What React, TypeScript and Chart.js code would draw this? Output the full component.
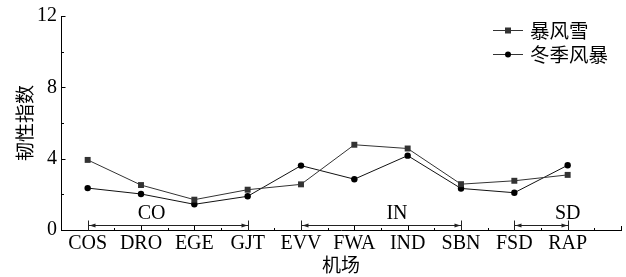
import React, { useEffect, useRef } from "react";
import { Chart, registerables } from "chart.js";

Chart.register(...registerables);

const categories = ["COS", "DRO", "EGE", "GJT", "EVV", "FWA", "IND", "SBN", "FSD", "RAP"];
const blizzard = [3.93, 2.52, 1.7, 2.26, 2.56, 4.78, 4.57, 2.57, 2.76, 3.09];
const winterStorm = [2.35, 2.02, 1.44, 1.89, 3.61, 2.85, 4.17, 2.33, 2.09, 3.63];
const yTicks = [0, 4, 8, 12];
const yMinorTicks = [2, 6, 10];
const seriesNames = ["暴风雪", "冬季风暴"];
// state groups: [label, start index, end index, label position (category units)]
const groupLabels = ["CO", "IN", "SD"];
const groupStart = [0, 4, 8];
const groupEnd = [3, 7, 9];
const groupLabelPos = [1.2, 5.8, 9];

const SERIF = '"Liberation Serif", "Times New Roman", serif';
const CJK = '"Noto Sans CJK SC", "Noto Sans", sans-serif';

export default function App() {
  const ref = useRef<HTMLCanvasElement | null>(null);

  useEffect(() => {
    document.body.style.margin = "0";
    const canvas = ref.current;
    if (!canvas) return;

    const overlay = {
      id: "overlay",
      afterDraw(chart: any) {
        const ctx = chart.ctx as CanvasRenderingContext2D;
        const x = chart.scales.x;
        const y = chart.scales.y;
        const area = chart.chartArea;
        ctx.save();
        ctx.strokeStyle = "#000";
        ctx.fillStyle = "#000";
        ctx.lineWidth = 1;
        // inward ticks on y axis
        const ax = Math.round(area.left) + 0.5;
        yTicks.forEach((v) => {
          const py = Math.round(y.getPixelForValue(v)) + 0.5;
          ctx.beginPath();
          ctx.moveTo(ax, py);
          ctx.lineTo(ax + 4, py);
          ctx.stroke();
        });
        yMinorTicks.forEach((v) => {
          const py = Math.round(y.getPixelForValue(v)) + 0.5;
          ctx.beginPath();
          ctx.moveTo(ax, py);
          ctx.lineTo(ax + 2.5, py);
          ctx.stroke();
        });
        // inward ticks on x axis
        const ay = Math.round(area.bottom) + 0.5;
        for (let i = 0; i <= categories.length; i++) {
          const px = Math.round(x.getPixelForValue(i)) + 0.5;
          ctx.beginPath();
          ctx.moveTo(px, ay);
          ctx.lineTo(px, ay - 4.5);
          ctx.stroke();
        }
        for (let i = 0; i < categories.length; i++) {
          const px = Math.round(x.getPixelForValue(i + 0.5)) + 0.5;
          ctx.beginPath();
          ctx.moveTo(px, ay);
          ctx.lineTo(px, ay - 2.5);
          ctx.stroke();
        }
        // group brackets
        const by = ay - 5;
        groupLabels.forEach((lab, g) => {
          const x1 = Math.round(x.getPixelForValue(groupStart[g])) + 0.5;
          const x2 = Math.round(x.getPixelForValue(groupEnd[g])) + 0.5;
          ctx.strokeStyle = "#222";
          ctx.beginPath();
          ctx.moveTo(x1, ay - 10);
          ctx.lineTo(x1, ay);
          ctx.moveTo(x2, ay - 10);
          ctx.lineTo(x2, ay);
          ctx.moveTo(x1, by);
          ctx.lineTo(x2, by);
          ctx.stroke();
          ctx.fillStyle = "#222";
          ctx.beginPath();
          ctx.moveTo(x1 + 1, by);
          ctx.lineTo(x1 + 7, by - 2);
          ctx.lineTo(x1 + 7, by + 2);
          ctx.closePath();
          ctx.fill();
          ctx.beginPath();
          ctx.moveTo(x2 - 1, by);
          ctx.lineTo(x2 - 7, by - 2);
          ctx.lineTo(x2 - 7, by + 2);
          ctx.closePath();
          ctx.fill();
          ctx.fillStyle = "#000";
          ctx.font = `20px ${SERIF}`;
          ctx.textAlign = "center";
          ctx.textBaseline = "middle";
          ctx.fillText(lab, x.getPixelForValue(groupLabelPos[g]), by - 12);
        });
        // legend
        const rows = [30, 54];
        rows.forEach((ry, k) => {
          ctx.strokeStyle = "#333";
          ctx.lineWidth = 1;
          ctx.beginPath();
          ctx.moveTo(493, ry + 0.5);
          ctx.lineTo(523, ry + 0.5);
          ctx.stroke();
          if (k === 0) {
            ctx.fillStyle = "#333";
            ctx.fillRect(505, ry - 2.5, 6, 6);
          } else {
            ctx.fillStyle = "#000";
            ctx.beginPath();
            ctx.arc(508, ry + 0.5, 3, 0, Math.PI * 2);
            ctx.fill();
          }
          ctx.fillStyle = "#000";
          ctx.font = `19.5px ${CJK}`;
          ctx.textAlign = "left";
          ctx.textBaseline = "middle";
          ctx.fillText(seriesNames[k], 530, ry + 1);
        });
        ctx.restore();
      },
    };

    const chart = new Chart(canvas, {
      type: "line",
      data: {
        datasets: [
          {
            label: seriesNames[0],
            data: categories.map((_, i) => ({ x: i, y: blizzard[i] })),
            borderColor: "#333",
            backgroundColor: "#333",
            borderWidth: 1,
            pointStyle: "rect",
            pointRadius: 4.2,
            pointBorderWidth: 0,
          },
          {
            label: seriesNames[1],
            data: categories.map((_, i) => ({ x: i, y: winterStorm[i] })),
            borderColor: "#111",
            backgroundColor: "#000",
            borderWidth: 1,
            pointStyle: "circle",
            pointRadius: 3.2,
            pointBorderWidth: 0,
          },
        ],
      },
      options: {
        responsive: false,
        animation: false,
        layout: { padding: { top: 14, right: 5, left: 0, bottom: 0 } },
        plugins: { legend: { display: false }, tooltip: { enabled: false } },
        scales: {
          x: {
            type: "linear",
            min: -0.5,
            max: categories.length,
            afterBuildTicks: (s: any) => {
              s.ticks = categories.map((_, i) => ({ value: i }));
            },
            afterFit: (s: any) => {
              s.height = 47;
            },
            grid: { display: false, drawTicks: false },
            border: { display: true, color: "#000", width: 1 },
            ticks: {
              autoSkip: false,
              maxRotation: 0,
              padding: 2,
              color: "#000",
              font: { family: SERIF, size: 20 },
              callback: (v: any) => categories[v] ?? "",
            },
            title: {
              display: true,
              text: "机场",
              color: "#000",
              font: { family: CJK, size: 19 },
              padding: { top: 0, bottom: 1 },
            },
          },
          y: {
            min: 0,
            max: 12,
            afterBuildTicks: (s: any) => {
              s.ticks = yTicks.map((v) => ({ value: v }));
            },
            afterFit: (s: any) => {
              s.width = 61;
            },
            grid: { display: false, drawTicks: false },
            border: { display: true, color: "#000", width: 1 },
            ticks: {
              padding: 4,
              color: "#000",
              font: { family: SERIF, size: 20 },
            },
            title: {
              display: true,
              text: "韧性指数",
              color: "#000",
              font: { family: CJK, size: 19 },
              padding: { top: 13, bottom: 0 },
            },
          },
        },
      },
      plugins: [overlay],
    });

    return () => chart.destroy();
  }, []);

  return <canvas ref={ref} width={626} height={277} style={{ display: "block" }} />;
}
